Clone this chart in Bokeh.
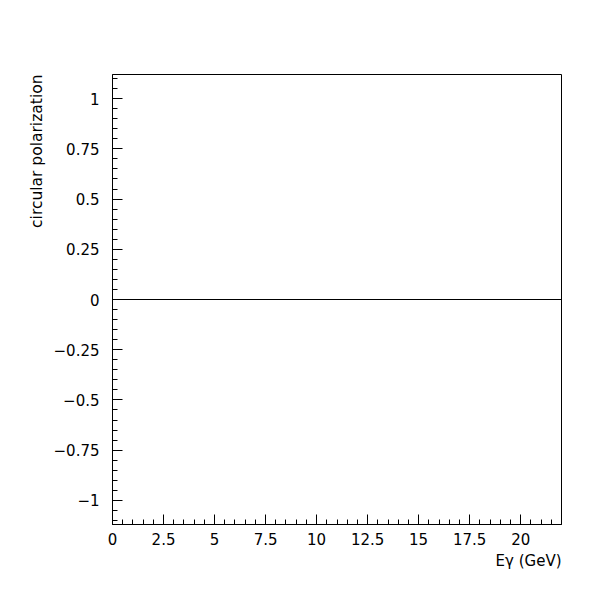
from bokeh.plotting import figure
from bokeh.models import FixedTicker, Title, Range1d
from bokeh.embed import file_html
from bokeh.resources import INLINE

# Data
energy = [0.0, 22.0]
polarization = [0.0, 0.0]

x_major = [0, 2.5, 5, 7.5, 10, 12.5, 15, 17.5, 20]
x_labels = ["0", "2.5", "5", "7.5", "10", "12.5", "15", "17.5", "20"]
x_minor = [i * 0.5 for i in range(0, 45)]
y_major = [-1, -0.75, -0.5, -0.25, 0, 0.25, 0.5, 0.75, 1]
y_labels = ["\u22121", "\u22120.75", "\u22120.5", "\u22120.25", "0", "0.25", "0.5", "0.75", "1"]
y_minor = [round(-1.1 + i * 0.05, 2) for i in range(0, 45)]

x_title = "E\u03b3 (GeV)"
y_title = "circular polarization"

FONT = "DejaVu Sans"

p = figure(width=592, height=592, output_backend="svg", toolbar_location=None,
           x_range=Range1d(0, 22), y_range=Range1d(-1.12, 1.12),
           min_border_left=112, min_border_right=31, min_border_top=74, min_border_bottom=68)
p.background_fill_color = "white"
p.border_fill_color = "white"
p.outline_line_color = "black"
p.outline_line_width = 1
p.grid.visible = False

for ax, maj, lab, mino in ((p.xaxis[0], x_major, x_labels, x_minor),
                           (p.yaxis[0], y_major, y_labels, y_minor)):
    ax.ticker = FixedTicker(ticks=maj, minor_ticks=mino)
    ax.major_label_overrides = {t: l for t, l in zip(maj, lab)}
    ax.major_tick_in = 10
    ax.major_tick_out = 0
    ax.minor_tick_in = 5
    ax.minor_tick_out = 0
    ax.axis_line_color = "black"
    ax.major_tick_line_color = "black"
    ax.minor_tick_line_color = "black"
    ax.major_label_text_font = FONT
    ax.major_label_text_font_size = "15px"
    ax.major_label_text_color = "black"

p.xaxis.major_label_standoff = 8
p.yaxis.major_label_standoff = 13

p.line(energy, polarization, line_color="black", line_width=1)

p.add_layout(Title(text=x_title, align="right", text_font=FONT, text_font_size="15px",
                   text_font_style="normal", text_color="black", standoff=4, offset=0), "below")
p.add_layout(Title(text=y_title, align="right", text_font=FONT, text_font_size="15.5px",
                   text_font_style="normal", text_color="black", standoff=9, offset=0), "left")

open("out.html", "w").write(file_html(p, INLINE))
